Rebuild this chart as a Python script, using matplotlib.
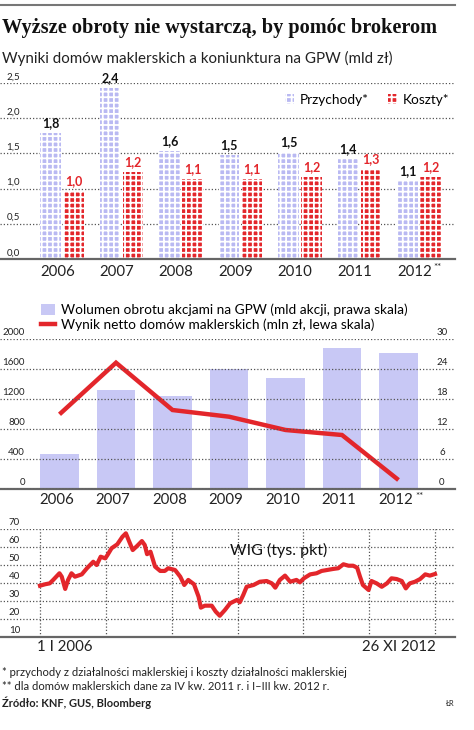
import numpy as np
import matplotlib
matplotlib.use('Agg')
import matplotlib.pyplot as plt
from matplotlib.patches import Patch
from matplotlib.lines import Line2D
from matplotlib.transforms import offset_copy

# --- data ---
years = ['2006', '2007', '2008', '2009', '2010', '2011', '2012']
przychody = [1.79, 2.43, 1.54, 1.48, 1.52, 1.42, 1.11]
koszty = [0.97, 1.24, 1.14, 1.14, 1.17, 1.28, 1.17]
przychody_lbl = ['1,8', '2,4', '1,6', '1,5', '1,5', '1,4', '1,1']
koszty_lbl = ['1,0', '1,2', '1,1', '1,1', '1,2', '1,3', '1,2']
top_ticks = [0.0, 0.5, 1.0, 1.5, 2.0, 2.5]
top_tick_lbl = ['0,0', '0,5', '1,0', '1,5', '2,0', '2,5']

wolumen = [7.0, 19.8, 18.6, 24.0, 22.3, 28.2, 27.3]     # prawa skala
wynik = [996, 1684, 1053, 964, 787, 720, 120]           # lewa skala
mid_left_ticks = [0, 400, 800, 1200, 1600, 2000]
mid_right_ticks = [0, 6, 12, 18, 24, 30]

wig_t = [2006.00, 2006.09, 2006.17, 2006.23, 2006.34, 2006.38, 2006.44, 2006.49,
         2006.55, 2006.61, 2006.73, 2006.82, 2006.93, 2006.99, 2007.06, 2007.14,
         2007.18, 2007.25, 2007.35, 2007.44, 2007.50, 2007.56, 2007.62, 2007.70,
         2007.78, 2007.83, 2007.87, 2007.93, 2008.01, 2008.10, 2008.18, 2008.24,
         2008.36, 2008.45, 2008.52, 2008.59, 2008.69, 2008.77, 2008.81, 2008.88,
         2009.00, 2009.07, 2009.14, 2009.23, 2009.32, 2009.44, 2009.49, 2009.55,
         2009.61, 2009.73, 2009.84, 2009.96, 2010.05, 2010.11, 2010.19, 2010.28,
         2010.37, 2010.48, 2010.54, 2010.61, 2010.72, 2010.83, 2010.92, 2011.01,
         2011.12, 2011.21, 2011.30, 2011.39, 2011.47, 2011.54, 2011.59, 2011.64,
         2011.74, 2011.79, 2011.88, 2011.97, 2012.06, 2012.14, 2012.23, 2012.32,
         2012.39, 2012.46, 2012.55, 2012.64, 2012.73, 2012.81, 2012.90]
wig_v = [38.5, 39.3, 39.8, 41.7, 45.4, 43.5, 36.7, 41.7,
         45.4, 43.5, 44.8, 48.2, 51.8, 50.0, 54.6, 53.7,
         55.6, 59.3, 61.5, 65.7, 67.6, 62.9, 58.3, 60.7,
         63.3, 61.1, 56.0, 57.4, 49.1, 46.7, 46.7, 48.2,
         47.2, 43.5, 38.9, 41.7, 39.3, 32.4, 26.3, 27.4,
         27.4, 24.1, 21.8, 25.0, 28.7, 30.6, 29.3, 33.3,
         37.9, 38.9, 40.7, 41.1, 39.8, 37.4, 41.7, 44.1,
         40.7, 41.7, 40.4, 42.6, 44.8, 45.4, 46.7, 47.2,
         47.8, 48.2, 50.4, 49.6, 49.6, 48.5, 43.5, 38.9,
         36.1, 41.1, 39.8, 37.9, 39.8, 42.6, 42.2, 41.1,
         37.0, 39.8, 40.7, 42.2, 44.8, 44.1, 45.0]
wig_ticks = [20, 30, 40, 50, 60, 70]
wig_tick_lbl = ['10', '20', '30', '40', '50', '60', '70']

# --- style ---
plt.rcParams['font.family'] = ['Lato', 'DejaVu Sans']
plt.rcParams['hatch.linewidth'] = 1.3
LAV = '#b9b9f2'
LAV2 = '#c8c8f5'
RED = '#e3262b'
GRID = '#555555'
DOT = (0, (1, 1.6))

W, H = 474, 730
fig = plt.figure(figsize=(W / 100, H / 100), dpi=100)


def box(x0, y0, x1, y1):
    return [x0 / W, 1 - y1 / H, (x1 - x0) / W, (y1 - y0) / H]


def clean(ax):
    for s in ['top', 'left', 'right']:
        ax.spines[s].set_visible(False)
    ax.spines['bottom'].set_color('#666666')
    ax.spines['bottom'].set_linewidth(1.6)
    ax.tick_params(left=False, labelleft=False, bottom=False, labelbottom=False,
                   right=False, labelright=False)
    ax.patch.set_visible(False)


def ylabels(ax, ticks, labels, xpos, ha='right', size=7):
    tr = offset_copy(ax.get_yaxis_transform(), fig=fig, x=0, y=1.2, units='points')
    for t, l in zip(ticks, labels):
        ax.text(xpos, t, l, transform=tr, ha=ha, va='bottom', fontsize=size, color='#222222')


# header
fig.add_artist(Line2D([0, 455 / W], [1 - 5 / H, 1 - 5 / H], color='#777777', lw=1.5))
fig.text(2 / W, 1 - 28 / H, 'Wyższe obroty nie wystarczą, by pomóc brokerom',
         family='Liberation Serif', fontweight='bold', fontsize=14.6, va='center', color='#111111')
fig.text(2 / W, 1 - 58 / H, 'Wyniki domów maklerskich a koniunktura na GPW (mld zł)',
         fontsize=10.9, va='center', color='#222222')

# --- top chart ---
ax1 = fig.add_axes(box(0, 83, 455, 259))
clean(ax1)
x = np.arange(len(years))
off = 0.193
bw = 0.35
ax1.bar(x - off, przychody, bw, color=LAV, edgecolor='white', linewidth=0, hatch='+++', zorder=2)
ax1.bar(x + off, koszty, bw, color=RED, edgecolor='white', linewidth=0, hatch='+++', zorder=2)
for i in range(len(years)):
    ax1.text(x[i] - off, przychody[i] + 0.05, przychody_lbl[i], ha='center', va='bottom',
             fontsize=9, fontweight='bold', color='#111111')
    ax1.text(x[i] + off, koszty[i] + 0.05, koszty_lbl[i], ha='center', va='bottom',
             fontsize=9, fontweight='bold', color=RED)
ax1.set_xlim(-62 / 59.5, 393 / 59.5)
ax1.set_ylim(0, 2.5)
ax1.set_yticks(top_ticks)
ax1.grid(axis='y', linestyle=DOT, color=GRID, lw=0.9, zorder=0)
ax1.set_axisbelow(True)
ylabels(ax1, top_ticks, top_tick_lbl, 20 / 455)
for i, yr in enumerate(years):
    ax1.text(x[i] - 0.08, -0.08, yr, ha='center', va='top', fontsize=10.8, color='#222222')
ax1.text(x[-1] + 0.31, -0.06, '**', ha='center', va='top', fontsize=7, color='#222222')
h1 = [Patch(facecolor=LAV, edgecolor='white', linewidth=0, hatch='+++'),
      Patch(facecolor=RED, edgecolor='white', linewidth=0, hatch='+++')]
ax1.legend(h1, ['Przychody*', 'Koszty*'], ncol=2, loc='center right', bbox_to_anchor=(1.0, 0.905),
           frameon=False, fontsize=9.8, handlelength=0.7, handleheight=0.7, handletextpad=0.4,
           columnspacing=1.4, borderaxespad=0)

# --- middle chart ---
ax2 = fig.add_axes(box(0, 339, 455, 489))
axb = ax2.twinx()
clean(ax2)
clean(axb)
axb.spines['bottom'].set_visible(False)
ax2.set_zorder(axb.get_zorder() + 1)
axb.bar(x, wolumen, 0.69, color=LAV2, linewidth=0)
ax2.plot(x, wynik, color=RED, lw=3.2, solid_joinstyle='miter', solid_capstyle='butt')
ax2.set_xlim(-59.5 / 56.5, 395.5 / 56.5)
axb.set_xlim(ax2.get_xlim())
ax2.set_ylim(0, 2000)
axb.set_ylim(0, 30)
ax2.set_yticks(mid_left_ticks)
ax2.grid(axis='y', linestyle=DOT, color=GRID, lw=0.9)
ax2.set_axisbelow(False)
ylabels(ax2, mid_left_ticks, [str(v) for v in mid_left_ticks], 25 / 455)
ylabels(axb, mid_right_ticks, [str(v) for v in mid_right_ticks], 442 / 455, ha='center')
for i, yr in enumerate(years):
    ax2.text(x[i] - 0.05, -60, yr, ha='center', va='top', fontsize=10.8, color='#222222')
ax2.text(x[-1] + 0.38, -45, '**', ha='center', va='top', fontsize=7, color='#222222')
h2 = [Patch(facecolor=LAV2, linewidth=0), Line2D([], [], color=RED, lw=3.2)]
ax2.legend(h2, ['Wolumen obrotu akcjami na GPW (mld akcji, prawa skala)',
                'Wynik netto domów maklerskich (mln zł, lewa skala)'],
           loc='upper left', bbox_to_anchor=(36 / 455, 1.27), frameon=False, fontsize=9.8,
           handlelength=1.0, handleheight=0.9, handletextpad=0.45, labelspacing=0.15,
           borderaxespad=0)

# --- bottom chart ---
ax3 = fig.add_axes(box(0, 529, 455, 637))
clean(ax3)
t0, t1 = wig_t[0], wig_t[-1]
ppy = (435 - 40) / (t1 - t0)
ax3.set_xlim(t0 - 40 / ppy, t1 + 20 / ppy)
ax3.set_ylim(10, 70)
ax3.set_yticks(wig_ticks)
ax3.set_xticks(np.linspace(t0, t1, 7))
ax3.grid(True, linestyle=DOT, color=GRID, lw=0.9)
ax3.plot(wig_t, wig_v, color=RED, lw=3.0, solid_joinstyle='round')
ylabels(ax3, [10] + wig_ticks, wig_tick_lbl, 20 / 455)
ax3.text(0.505, 0.80, 'WIG (tys. pkt)', transform=ax3.transAxes, ha='left', va='center',
         fontsize=11.5, color='#111111')
ax3.text(t0 - 3 / ppy, 10 - 1.5, '1 I 2006', ha='left', va='top', fontsize=10.8, color='#222222')
ax3.text(t1 + 1 / ppy, 10 - 1.5, '26 XI 2012', ha='right', va='top', fontsize=10.8, color='#222222')

# --- footer ---
fig.text(2 / W, 1 - 673 / H, '* przychody z działalności maklerskiej i koszty działalności maklerskiej',
         fontsize=8.1, va='center', color='#222222')
fig.text(2 / W, 1 - 687 / H, '** dla domów maklerskich dane za IV kw. 2011 r. i I–III kw. 2012 r.',
         fontsize=8.1, va='center', color='#222222')
fig.text(2 / W, 1 - 703 / H, 'Źródło: KNF, GUS, Bloomberg', fontsize=8.0, va='center',
         fontweight='bold', color='#222222')
fig.text(455 / W, 1 - 703 / H, 'ŁR', fontsize=5.5, va='center', ha='right', color='#222222')

fig.savefig('out.png', dpi=100, facecolor='white')
